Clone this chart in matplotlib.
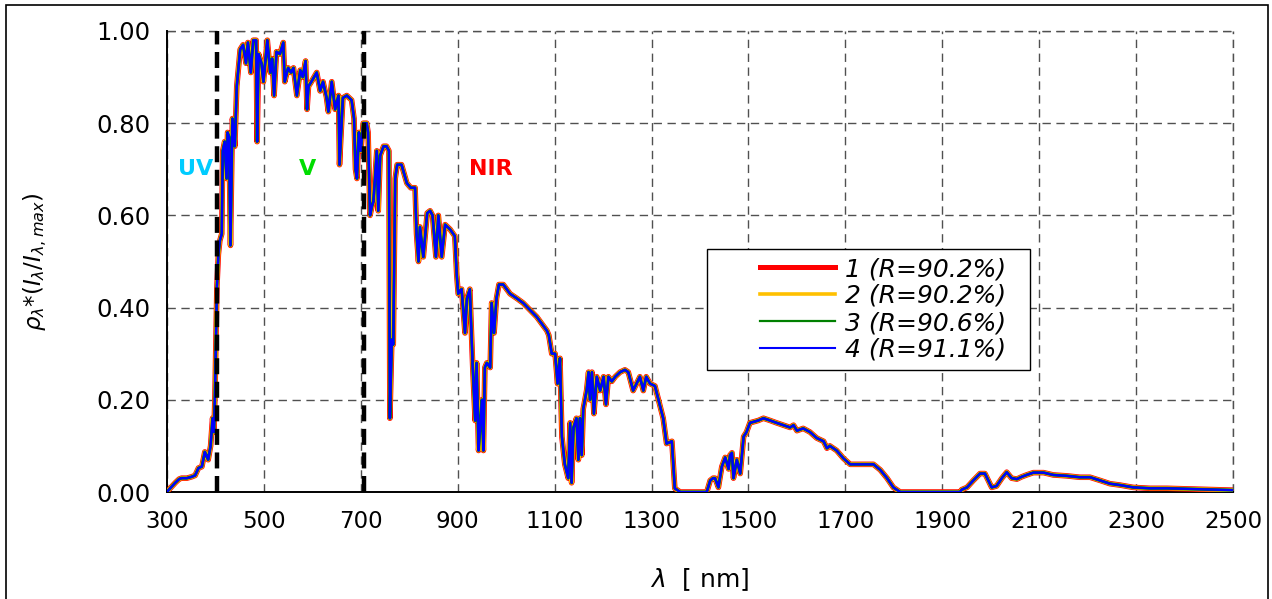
import matplotlib
matplotlib.use("Agg")
import matplotlib.pyplot as plt
from matplotlib.patches import Rectangle

# ---------------- data ----------------
wavelength = [300, 303, 310, 317, 325, 330, 341, 351, 358, 365, 372, 378, 385, 390, 394, 397, 399,
              403, 406, 409, 413, 415, 419, 423, 425, 428, 431, 435, 440, 444, 451, 457, 463, 467,
              473, 478, 484, 486, 489, 495, 499, 507, 513, 517, 521, 526, 533, 540, 543, 550, 556,
              561, 568, 575, 580, 586, 589, 592, 598, 609, 616, 622, 629, 633, 640, 647, 654, 656,
              663, 671, 681, 686, 689, 692, 696, 700, 705, 712, 715, 719, 723, 726, 733, 736, 740,
              747, 753, 758, 760, 764, 767, 771, 775, 784, 795, 803, 812, 815, 819, 822, 829, 837,
              843, 848, 855, 860, 867, 874, 884, 894, 898, 901, 908, 915, 919, 925, 931, 936, 939,
              943, 946, 950, 953, 956, 960, 967, 970, 975, 980, 985, 994, 1008, 1022, 1035, 1049,
              1063, 1077, 1084, 1088, 1094, 1101, 1106, 1111, 1115, 1121, 1128, 1132, 1135, 1139,
              1145, 1149, 1152, 1156, 1159, 1166, 1170, 1173, 1177, 1181, 1187, 1194, 1201, 1206,
              1211, 1218, 1225, 1235, 1245, 1252, 1262, 1269, 1276, 1283, 1289, 1297, 1307, 1318,
              1324, 1331, 1342, 1348, 1359, 1414, 1421, 1427, 1431, 1438, 1445, 1452, 1459, 1462,
              1466, 1469, 1476, 1483, 1490, 1496, 1503, 1510, 1520, 1531, 1545, 1558, 1572, 1586,
              1593, 1600, 1613, 1627, 1641, 1655, 1662, 1668, 1682, 1696, 1710, 1737, 1758, 1772,
              1786, 1799, 1813, 1937, 1940, 1951, 1964, 1978, 1988, 1995, 2002, 2012, 2023, 2033,
              2043, 2054, 2064, 2074, 2088, 2109, 2129, 2157, 2184, 2205, 2226, 2246, 2267, 2294,
              2329, 2364, 2398, 2432, 2467, 2500]

rho = [0.00, 0.004, 0.012, 0.02, 0.028, 0.03, 0.03, 0.033, 0.036, 0.052, 0.055, 0.087, 0.07, 0.10,
       0.16, 0.13, 0.21, 0.445, 0.515, 0.545, 0.56, 0.74, 0.76, 0.68, 0.78, 0.77, 0.535, 0.81, 0.75,
       0.88, 0.96, 0.97, 0.93, 0.975, 0.91, 0.98, 0.98, 0.76, 0.95, 0.93, 0.89, 0.98, 0.91, 0.94,
       0.86, 0.955, 0.95, 0.975, 0.89, 0.92, 0.91, 0.92, 0.86, 0.915, 0.90, 0.935, 0.83, 0.88, 0.89,
       0.91, 0.87, 0.89, 0.857, 0.825, 0.89, 0.83, 0.86, 0.71, 0.855, 0.86, 0.85, 0.81, 0.70, 0.68,
       0.78, 0.74, 0.80, 0.80, 0.78, 0.60, 0.62, 0.63, 0.74, 0.61, 0.73, 0.75, 0.75, 0.74, 0.16,
       0.33, 0.32, 0.68, 0.71, 0.71, 0.67, 0.66, 0.66, 0.56, 0.50, 0.575, 0.51, 0.605, 0.61, 0.60,
       0.51, 0.60, 0.51, 0.58, 0.57, 0.555, 0.47, 0.43, 0.44, 0.345, 0.42, 0.44, 0.27, 0.155, 0.28,
       0.09, 0.14, 0.20, 0.09, 0.27, 0.28, 0.27, 0.41, 0.345, 0.42, 0.45, 0.45, 0.43, 0.42, 0.41,
       0.395, 0.38, 0.36, 0.35, 0.34, 0.30, 0.30, 0.235, 0.29, 0.12, 0.06, 0.03, 0.15, 0.02, 0.14,
       0.16, 0.07, 0.16, 0.08, 0.18, 0.22, 0.26, 0.20, 0.26, 0.17, 0.25, 0.22, 0.25, 0.19, 0.25,
       0.24, 0.25, 0.26, 0.265, 0.26, 0.22, 0.235, 0.25, 0.22, 0.25, 0.235, 0.23, 0.185, 0.16,
       0.105, 0.11, 0.008, 0.0, 0.0, 0.025, 0.03, 0.03, 0.01, 0.055, 0.075, 0.05, 0.08, 0.085,
       0.03, 0.07, 0.04, 0.12, 0.13, 0.15, 0.152, 0.155, 0.16, 0.155, 0.15, 0.145, 0.14, 0.145,
       0.133, 0.138, 0.13, 0.117, 0.11, 0.095, 0.10, 0.09, 0.073, 0.06, 0.06, 0.06, 0.048, 0.03,
       0.01, 0.0, 0.0, 0.005, 0.01, 0.025, 0.04, 0.04, 0.025, 0.01, 0.013, 0.03, 0.043, 0.03,
       0.028, 0.033, 0.037, 0.042, 0.042, 0.037, 0.035, 0.032, 0.032, 0.025, 0.018, 0.015, 0.01,
       0.008, 0.008, 0.007, 0.006, 0.005, 0.004]

series_labels = ["1 (R=90.2%)", "2 (R=90.2%)", "3 (R=90.6%)", "4 (R=91.1%)"]
series_values = [rho, rho, rho, rho]   # the four curves coincide in the picture

x_ticks = [300, 500, 700, 900, 1100, 1300, 1500, 1700, 1900, 2100, 2300, 2500]
y_ticks = [0.0, 0.2, 0.4, 0.6, 0.8, 1.0]
y_tick_labels = ["0.00", "0.20", "0.40", "0.60", "0.80", "1.00"]

band_edges = [403, 707]
band_names = ["UV", "V", "NIR"]
band_label_x = [360, 591, 969]
band_label_y = 0.70

# ---------------- style ----------------
series_colors = ["#FF0000", "#FFC000", "#008000", "#0000FF"]
series_widths = [4.0, 3.0, 2.2, 1.7]
legend_widths = [3.6, 2.6, 1.6, 1.5]
band_colors = ["#00CCFF", "#00DD00", "#FF0000"]
grid_style = dict(color="#505050", lw=1.0, linestyle=(0, (6, 4)))

plt.rcParams["font.family"] = ["DejaVu Sans"]
plt.rcParams["mathtext.fontset"] = "dejavusans"

W, H = 1272, 599
fig = plt.figure(figsize=(W / 100, H / 100), dpi=100)
ax = fig.add_axes([167 / W, 107 / H, 1066 / W, 461 / H])

for vals, lab, c, lw in zip(series_values, series_labels, series_colors, series_widths):
    ax.plot(wavelength, vals, color=c, lw=lw, label=lab, zorder=3)

for xe in band_edges:
    ax.axvline(xe, color="black", lw=3.2, dashes=(3.6, 1.7), zorder=4)

for name, bx, bc in zip(band_names, band_label_x, band_colors):
    ax.text(bx, band_label_y, name, color=bc, fontsize=16, fontweight="bold",
            ha="center", va="center", zorder=5)

ax.set_xlim(300, 2500)
ax.set_ylim(0, 1.0)
ax.set_xticks(x_ticks)
ax.set_yticks(y_ticks)
ax.set_yticklabels(y_tick_labels)
ax.tick_params(axis="both", length=0)
ax.tick_params(axis="y", pad=12, labelsize=17.5)
ax.tick_params(axis="x", pad=13, labelsize=16.5)

ax.grid(True, **grid_style, zorder=1)
ax.set_axisbelow(True)
for s in ["top", "right"]:
    ax.spines[s].set_visible(False)
for s in ["left", "bottom"]:
    ax.spines[s].set_linewidth(1.4)
    ax.spines[s].set_color("black")
ax.axhline(1.0, **grid_style, clip_on=False, zorder=1)
ax.axvline(2500, **grid_style, clip_on=False, zorder=1)

ax.set_xlabel(r"$\lambda$  [ nm]", fontsize=18, labelpad=24)
ax.set_ylabel(r"$\rho_\lambda$*($I_\lambda$/$I_{\lambda,max}$)", fontsize=16.5, labelpad=34)

# legend box (white, black edge) and its content
ax.add_patch(Rectangle(((707 - 167) / 1066, (492 - 370) / 461), 323 / 1066, 121 / 461,
                       transform=ax.transAxes, facecolor="white", edgecolor="black",
                       lw=1.0, zorder=5, clip_on=False))
leg = ax.legend(loc="upper left", bbox_to_anchor=((760 - 167) / 1066, (492 - 257) / 461),
                fontsize=18, frameon=False, handlelength=3.0, handletextpad=0.4,
                labelspacing=0.12, borderpad=0.0, borderaxespad=0.0)
for t in leg.get_texts():
    t.set_fontstyle("italic")
for h, lw in zip(leg.get_lines(), legend_widths):
    h.set_linewidth(lw)
leg.set_zorder(6)

# outer figure frame
fig.add_artist(Rectangle((6 / W, -0.02), 1262 / W, 1 - 5 / H + 0.02,
                         transform=fig.transFigure, fill=False, edgecolor="black", lw=1.2))

fig.savefig("out.png", dpi=100)
